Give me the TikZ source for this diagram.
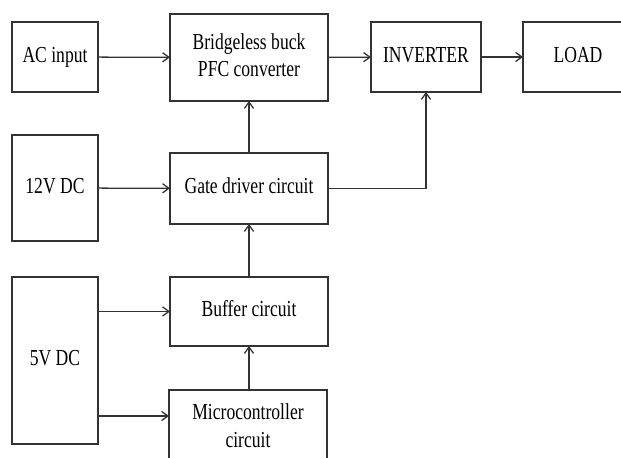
\documentclass[tikz,border=0pt]{standalone}
\usepackage{fontspec}
\setmainfont{Liberation Serif}
\usetikzlibrary{arrows.meta}
\newcommand{\blocktxt}[1]{\scalebox{1}[1.3]{\begin{tabular}{@{}c@{}}#1\end{tabular}}}
\begin{document}
\begin{tikzpicture}[x=0.025cm,y=-0.025cm,
		blk/.style={draw=black!80,line width=0.9pt,fill=white,inner sep=0pt,outer sep=0pt,font=\fontsize{12.5}{15}\selectfont},
		link/.style={draw=black!80,line width=0.9pt,-{Straight Barb[length=4.5pt,width=6.5pt]}}]
			\useasboundingbox (0,0) rectangle (621,458);
			\clip (0,0) rectangle (621,458);
			\node[blk,minimum width=2.15cm,minimum height=1.75cm] (ac) at (55,57) {\blocktxt{AC input}};
			\node[blk,minimum width=3.95cm,minimum height=2.175cm] (pfc) at (249,57.5) {\blocktxt{Bridgeless buck\\PFC converter}};
			\node[blk,minimum width=2.75cm,minimum height=1.75cm] (inv) at (426,57) {\blocktxt{INVERTER}};
			\node[blk,minimum width=2.75cm,minimum height=1.75cm] (load) at (578,57) {\blocktxt{LOAD}};
			\node[blk,minimum width=2.15cm,minimum height=2.65cm] (dc12) at (55,188) {\blocktxt{12V DC}};
			\node[blk,minimum width=3.95cm,minimum height=1.775cm] (gate) at (249,188.5) {\blocktxt{Gate driver circuit}};
			\node[blk,minimum width=2.15cm,minimum height=4.175cm] (dc5) at (55,360.5) {\blocktxt{5V DC}};
			\node[blk,minimum width=3.95cm,minimum height=1.725cm] (buf) at (249,311.5) {\blocktxt{Buffer circuit}};
			\node[blk,minimum width=3.95cm,minimum height=1.9cm] (mcu) at (248,428) {\blocktxt{Microcontroller\\circuit}};
			\coordinate (dc5b) at (98,416);
			\draw[link] (ac) -- (pfc);
			\draw[link] (pfc) -- (inv);
			\draw[link] (inv) -- (load);
			\draw[link] (dc12) -- (gate);
			\draw[link] (gate) -- (pfc);
			\draw[link] (gate.east) -| (inv.south);
			\draw[link] (buf) -- (gate);
			\draw[link] (mcu.north -| buf) -- (buf);
			\draw[link] (dc5.east |- buf) -- (buf);
			\draw[link] (dc5b) -- (dc5b -| mcu.west);
		\end{tikzpicture}
\end{document}
